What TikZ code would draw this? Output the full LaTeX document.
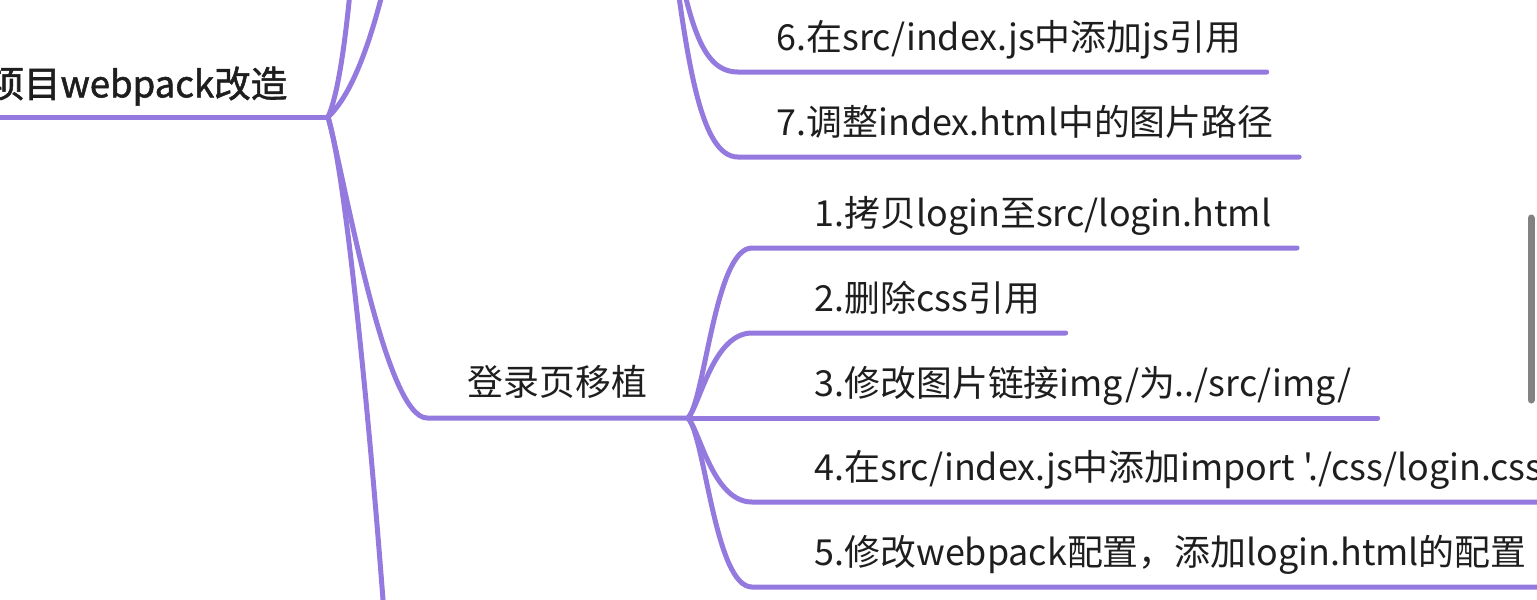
\documentclass[tikz,border=0pt]{standalone}
\usepackage{fontspec}
\newfontfamily\cjk{Noto Sans CJK SC}
\newfontfamily\cjkbold{Noto Sans CJK SC}[FakeBold=1.5]
\definecolor{branchcol}{RGB}{148,122,222}
\definecolor{textcol}{RGB}{30,30,30}
\definecolor{barcol}{RGB}{130,130,130}

\begin{document}
	\begin{tikzpicture}[x=0.01cm, y=-0.01cm]
		    \tikzset{
   			branch/.style={draw=branchcol, line width=0.05cm, line cap=round},
   			topic/.style={font=\cjkbold\fontsize{10.4}{12}\selectfont, text=textcol, inner xsep=0.4cm, inner ysep=0.11cm, text height=0.27cm, text depth=0.08cm},
   			subtopic/.style={font=\cjk\fontsize{10.2}{12}\selectfont, text=textcol, inner xsep=0.4cm, inner ysep=0.14cm, text height=0.27cm, text depth=0.08cm},
    		leaf/.style={font=\cjk\fontsize{10.2}{12}\selectfont, text=textcol, anchor=south west, inner xsep=0.25cm, inner ysep=0.13cm, text height=0.27cm, text depth=0.08cm}
		    }
            \useasboundingbox (0,0) rectangle (1537,599);
            \clip (0,0) rectangle (1537,599);

            % root and its joints
            \coordinate (j0) at (328,117);
            \coordinate (jt) at (668,-90);
            \coordinate (up1) at (352,-30);
            \coordinate (up2) at (388,-30);
            \coordinate (down) at (386,640);
   	        \draw node[topic, anchor=south east] (root) at (j0) {项目webpack改造};
            \draw[branch] (root.south west) -- (root.south east);
            \draw[branch] (j0) .. controls (338,95) and (346,40) .. (up1);
            \draw[branch] (j0) .. controls (352,95) and (372,40) .. (up2);
            \draw[branch] (j0) .. controls (345,170) and (370,420) .. (down);

            % steps 6 and 7 of the branch above
            \coordinate (k6) at (738,72);
            \coordinate (k7) at (738,157);
            \draw node[leaf] (l6) at (751,72) {6.在src/index.js中添加js引用};
            \draw node[leaf] (l7) at (751,157) {7.调整index.html中的图片路径};
            \draw[branch] (jt) .. controls (688,20) and (700,72) .. (k6) -- (l6.south east);
            \draw[branch] (jt) .. controls (686,60) and (700,157) .. (k7) -- (l7.south east);

            % login page
            \coordinate (j1) at (688,418);
            \draw node[subtopic, anchor=south east] (login) at (j1) {登录页移植};
            \draw[branch] (j0) .. controls (345,180) and (385,418) .. (login.south west) -- (login.south east);

            \coordinate (k1) at (752,248);
            \coordinate (k2) at (752,333);
            \coordinate (k4) at (752,502);
            \coordinate (k5) at (752,587);
            \draw node[leaf] (l1) at (789,248) {1.拷贝login至src/login.html};
            \draw node[leaf] (l2) at (789,333) {2.删除css引用};
            \draw node[leaf] (l3) at (789,418) {3.修改图片链接img/为../src/img/};
            \draw node[leaf] (l4) at (789,502) {4.在src/index.js中添加import './css/login.css'};
            \draw node[leaf] (l5) at (789,587) {5.修改webpack配置，添加login.html的配置};
            \draw[branch] (j1) .. controls (705,400) and (715,248) .. (k1) -- (l1.south east);
            \draw[branch] (j1) .. controls (700,405) and (713,333) .. (k2) -- (l2.south east);
            \draw[branch] (j1) -- (l3.south east);
            \draw[branch] (j1) .. controls (700,431) and (713,502) .. (k4) -- (l4.south east);
            \draw[branch] (j1) .. controls (705,436) and (715,587) .. (k5) -- (l5.south east);
            % \draw[branch] (j1) -- (l4.south west);

            \draw[barcol, line width=0.07cm, line cap=round] (1531,218) -- (1531,400);
	\end{tikzpicture}
\end{document}
